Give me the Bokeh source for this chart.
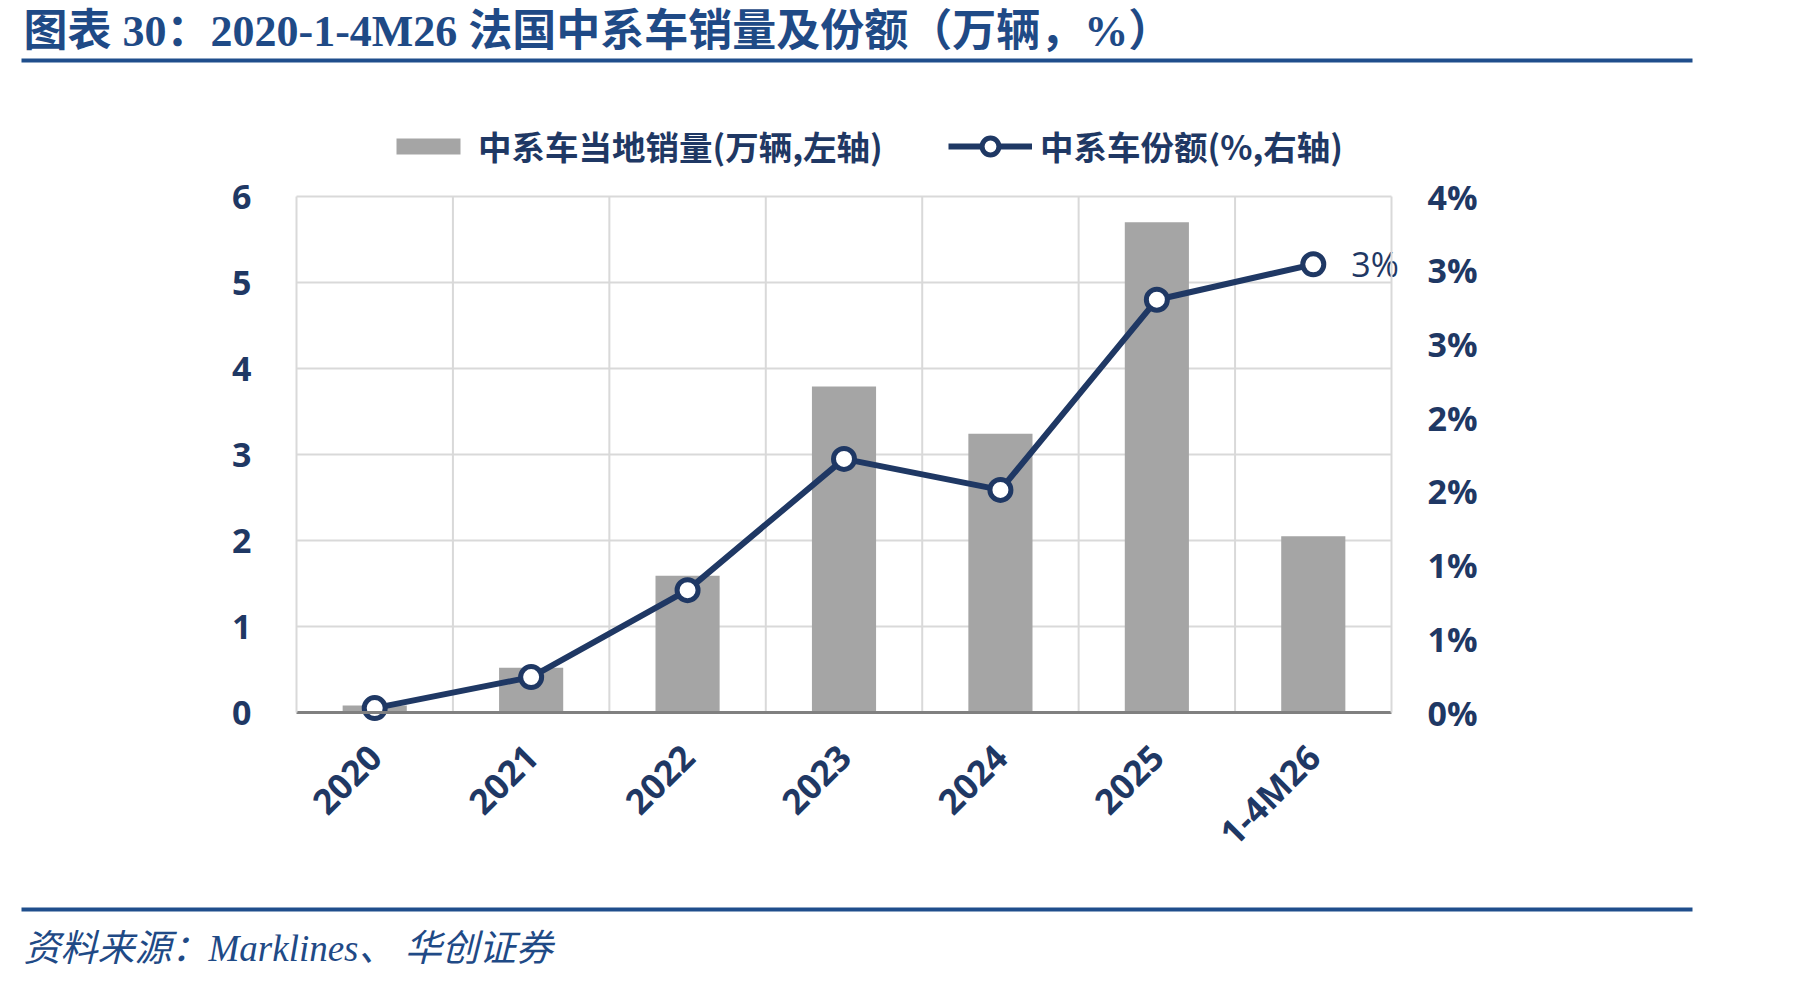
import math
from bokeh.plotting import figure
from bokeh.models import (Range1d, LinearAxis, FixedTicker, Label,
                          BoxAnnotation, Legend, LegendItem)
from bokeh.core.properties import value
from bokeh.embed import file_html
from bokeh.resources import INLINE

# ---------------- data ----------------
categories = ["2020", "2021", "2022", "2023", "2024", "2025", "1-4M26"]
sales = [0.08, 0.52, 1.59, 3.79, 3.24, 5.70, 2.05]          # 万辆 (left axis)
share_pct = [0.03, 0.24, 0.83, 1.72, 1.51, 2.80, 3.04]     # % (right axis)
share_labels = ["", "", "", "", "", "", "3%"]
left_ticks = [0, 1, 2, 3, 4, 5, 6]
right_ticks = [0, 0.5, 1, 1.5, 2, 2.5, 3, 3.5]
right_tick_labels = ["0%", "1%", "1%", "2%", "2%", "3%", "3%", "4%"]
title_text = "图表 30：2020-1-4M26 法国中系车销量及份额（万辆，%）"
source_text = "资料来源：Marklines、 华创证券"
legend_labels = ["中系车当地销量(万辆,左轴)", "中系车份额(%,右轴)"]

# ---------------- style ----------------
NAVY = "#1F3864"
BLUE = "#1F4A86"
RULE = "#1F4E8C"
GRID = "#D9D9D9"
BAR = "#A5A5A5"
SANS = "'Open Sans', 'Noto Sans CJK SC', sans-serif"
CJK = "'Noto Sans CJK SC', sans-serif"
SERIF = "'Liberation Serif', 'Noto Sans CJK SC', serif"

W, H = 1801, 981
FL, FR, FT, FB = 296, 1391, 196, 712   # plot-area edges in canvas px
LINE_W, MARK_SIZE, MARK_LW = 6, 21, 5

# ---------------- scales: the whole canvas is the frame ----------------
n = len(categories)
xs = [i + 0.5 for i in range(n)]                 # category centres
ymax, smax = left_ticks[-1], right_ticks[-1]
cat_px = (FR - FL) / n
y_px = (FB - FT) / ymax
s_px = (FB - FT) / smax

p = figure(width=W, height=H, title=None,
           x_range=Range1d(-FL / cat_px, n + (W - FR) / cat_px),
           y_range=Range1d(-(H - FB) / y_px, ymax + FT / y_px),
           output_backend="svg", toolbar_location=None,
           min_border=0, outline_line_color=None,
           background_fill_color="white", border_fill_color="white")
p.extra_y_ranges = {"share": Range1d(-(H - FB) / s_px, smax + FT / s_px)}
p.grid.visible = False

# left axis
ya = p.yaxis[0]
ya.fixed_location = 0
ya.bounds = (0, ymax)
ya.ticker = FixedTicker(ticks=left_ticks)
ya.axis_line_color = GRID
ya.axis_line_width = 2
ya.major_tick_line_color = None
ya.minor_tick_line_color = None
ya.major_label_text_font = SANS
ya.major_label_text_font_style = "bold"
ya.major_label_text_font_size = "34px"
ya.major_label_text_color = NAVY
ya.major_label_standoff = 39

# right axis
ra = LinearAxis(y_range_name="share", ticker=FixedTicker(ticks=right_ticks),
                fixed_location=n, bounds=(0, smax),
                major_label_overrides=dict(zip(right_ticks, right_tick_labels)))
ra.axis_line_color = GRID
ra.axis_line_width = 2
ra.major_tick_line_color = None
ra.minor_tick_line_color = None
ra.major_label_text_font = SANS
ra.major_label_text_font_style = "bold"
ra.major_label_text_font_size = "34px"
ra.major_label_text_color = NAVY
ra.major_label_standoff = 30
p.add_layout(ra, "right")

# bottom (category) axis
xa = p.xaxis[0]
xa.fixed_location = 0
xa.bounds = (0, n)
xa.ticker = FixedTicker(ticks=xs)
xa.major_label_overrides = dict(zip(xs, categories))
xa.axis_line_color = "#808080"
xa.axis_line_width = 3
xa.major_tick_line_color = None
xa.minor_tick_line_color = None
xa.major_label_orientation = math.pi / 4
xa.major_label_text_font = SANS
xa.major_label_text_font_style = "bold"
xa.major_label_text_font_size = "35px"
xa.major_label_text_color = NAVY
xa.major_label_standoff = 32

# gridlines (horizontal at left ticks, vertical between categories)
p.segment(x0=[0] * len(left_ticks[1:]), x1=[n] * len(left_ticks[1:]),
          y0=left_ticks[1:], y1=left_ticks[1:], line_color=GRID, line_width=2)
p.segment(x0=list(range(1, n)), x1=list(range(1, n)),
          y0=[0] * (n - 1), y1=[ymax] * (n - 1), line_color=GRID, line_width=2)

# data
bars = p.vbar(x=xs, top=sales, width=0.41, fill_color=BAR, line_color=None)
ln = p.line(x=xs, y=share_pct, y_range_name="share", line_width=LINE_W, line_color=NAVY)
pts = p.scatter(x=xs, y=share_pct, y_range_name="share", size=MARK_SIZE,
                fill_color="white", line_color=NAVY, line_width=MARK_LW)
p.text(x=xs, y=share_pct, text=share_labels, y_range_name="share",
       x_offset=38, text_baseline="middle", text_align="left",
       text_font=value(SANS), text_font_size="34px", text_color=NAVY)

# legends (screen units from bottom-left of canvas)
leg_common = dict(orientation="horizontal", padding=0, margin=0, label_height=46,
                  border_line_color=None, background_fill_alpha=0,
                  label_text_font=CJK, label_text_font_style="bold",
                  label_text_font_size="33.5px", label_text_color=NAVY)
leg_y = H - 147 - 23
leg1 = Legend(items=[LegendItem(label=legend_labels[0], renderers=[bars])],
              location=(388, leg_y), glyph_width=80, glyph_height=20, label_standoff=10,
              **leg_common)
leg2 = Legend(items=[LegendItem(label=legend_labels[1], renderers=[ln, pts])],
              location=(948, leg_y), glyph_width=84, glyph_height=42, label_standoff=8,
              **leg_common)
p.add_layout(leg1)
p.add_layout(leg2)

# title, rules and source note
p.add_layout(Label(x=23, y=H - 31, x_units="screen", y_units="screen",
                   text=title_text, text_font=SERIF, text_font_style="bold",
                   text_font_size="44px", text_color=BLUE, text_baseline="middle"))
p.add_layout(BoxAnnotation(left=21, right=1692, bottom=H - 62, top=H - 58,
                           left_units="screen", right_units="screen",
                           top_units="screen", bottom_units="screen",
                           fill_color=RULE, fill_alpha=1, line_color=None))
p.add_layout(BoxAnnotation(left=21, right=1692, bottom=H - 911, top=H - 907,
                           left_units="screen", right_units="screen",
                           top_units="screen", bottom_units="screen",
                           fill_color=RULE, fill_alpha=1, line_color=None))
p.add_layout(Label(x=23, y=H - 948, x_units="screen", y_units="screen",
                   text=source_text, text_font=SERIF, text_font_style="italic",
                   text_font_size="37px", text_color=BLUE, text_baseline="middle"))

open("out.html", "w").write(file_html(p, INLINE))
